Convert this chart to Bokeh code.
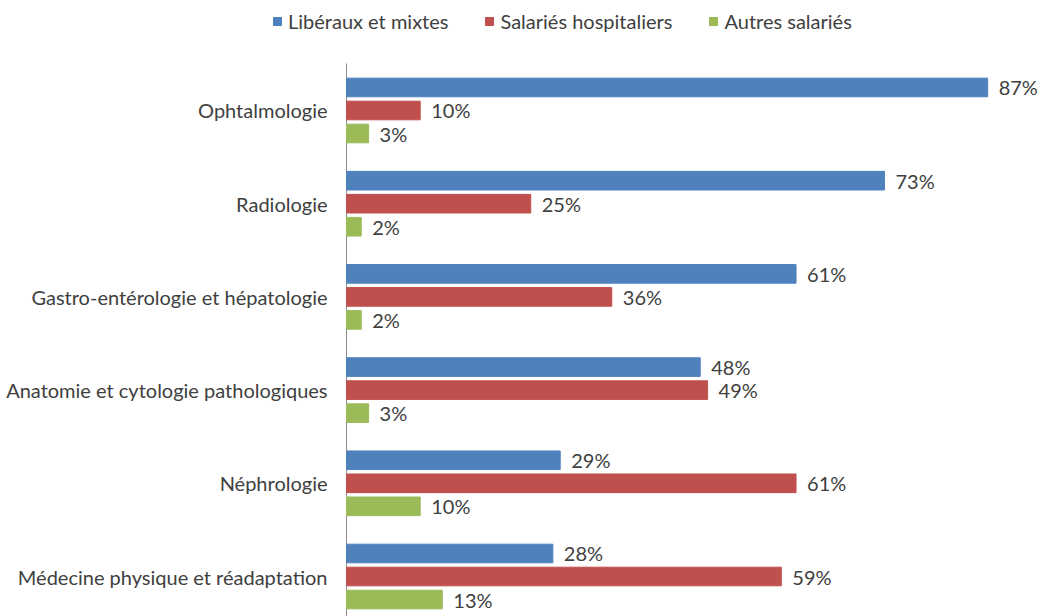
from bokeh.plotting import figure
from bokeh.models import ColumnDataSource, Range1d, Legend, LegendItem, LabelSet
from bokeh.core.properties import value
from bokeh.embed import file_html
from bokeh.resources import INLINE

categories = ["Ophtalmologie", "Radiologie", "Gastro-entérologie et hépatologie",
              "Anatomie et cytologie pathologiques", "Néphrologie",
              "Médecine physique et réadaptation"]
series_names = ["Libéraux et mixtes", "Salariés hospitaliers", "Autres salariés"]
liberaux = [87, 73, 61, 48, 29, 28]
hospitaliers = [10, 25, 36, 49, 61, 59]
autres = [3, 2, 2, 3, 10, 13]
colors = ["#4F81BD", "#C0504D", "#9BBB59"]

FONT = "Lato"
TXT = "#404040"
FS = "20px"

n = len(categories)
p = figure(width=1038, height=616, output_backend="svg", toolbar_location=None,
           x_range=Range1d(-46.95, 93.9), y_range=Range1d(5.429, -1.18),
           x_axis_location=None, y_axis_location=None,
           min_border_left=0, min_border_right=0, min_border_top=0, min_border_bottom=0)
p.outline_line_color = None
p.xgrid.visible = False
p.ygrid.visible = False

# category axis: line at x=0 and labels to its left
p.segment(x0=[0], y0=[-0.504], x1=[0], y1=[n - 0.571], line_color="#8C8C8C", line_width=1)
cat_src = ColumnDataSource(dict(x=[0] * n, y=list(range(n)), t=categories))
p.text(x="x", y="y", text="t", source=cat_src, x_offset=-19, text_align="right",
       text_baseline="middle", text_font=value(FONT), text_font_size=FS, text_color=TXT)

offsets = [-0.247, 0.0, 0.247]
bar_h = 0.2
items = []
for vals, name, col, off in zip([liberaux, hospitaliers, autres], series_names, colors, offsets):
    ys = [i + off for i in range(n)]
    src = ColumnDataSource(dict(y=ys, right=vals, lab=[f"{v}%" for v in vals]))
    r = p.hbar(y="y", left=0, right="right", height=bar_h, color=col, source=src)
    labels = LabelSet(x="right", y="y", text="lab", source=src, x_offset=11,
                      text_baseline="middle", text_align="left", text_font=value(FONT),
                      text_font_size=FS, text_color=TXT)
    p.add_layout(labels)
    items.append(LegendItem(label=name, renderers=[r]))

legend = Legend(items=items, orientation="horizontal", location=(272, 583),
                label_text_font=FONT, label_text_font_size=FS,
                label_text_color=TXT, glyph_width=10, glyph_height=10,
                spacing=36, label_standoff=6, border_line_color=None,
                background_fill_alpha=0, padding=0, margin=0)
p.add_layout(legend, "center")

open("out.html", "w").write(file_html(p, INLINE))
